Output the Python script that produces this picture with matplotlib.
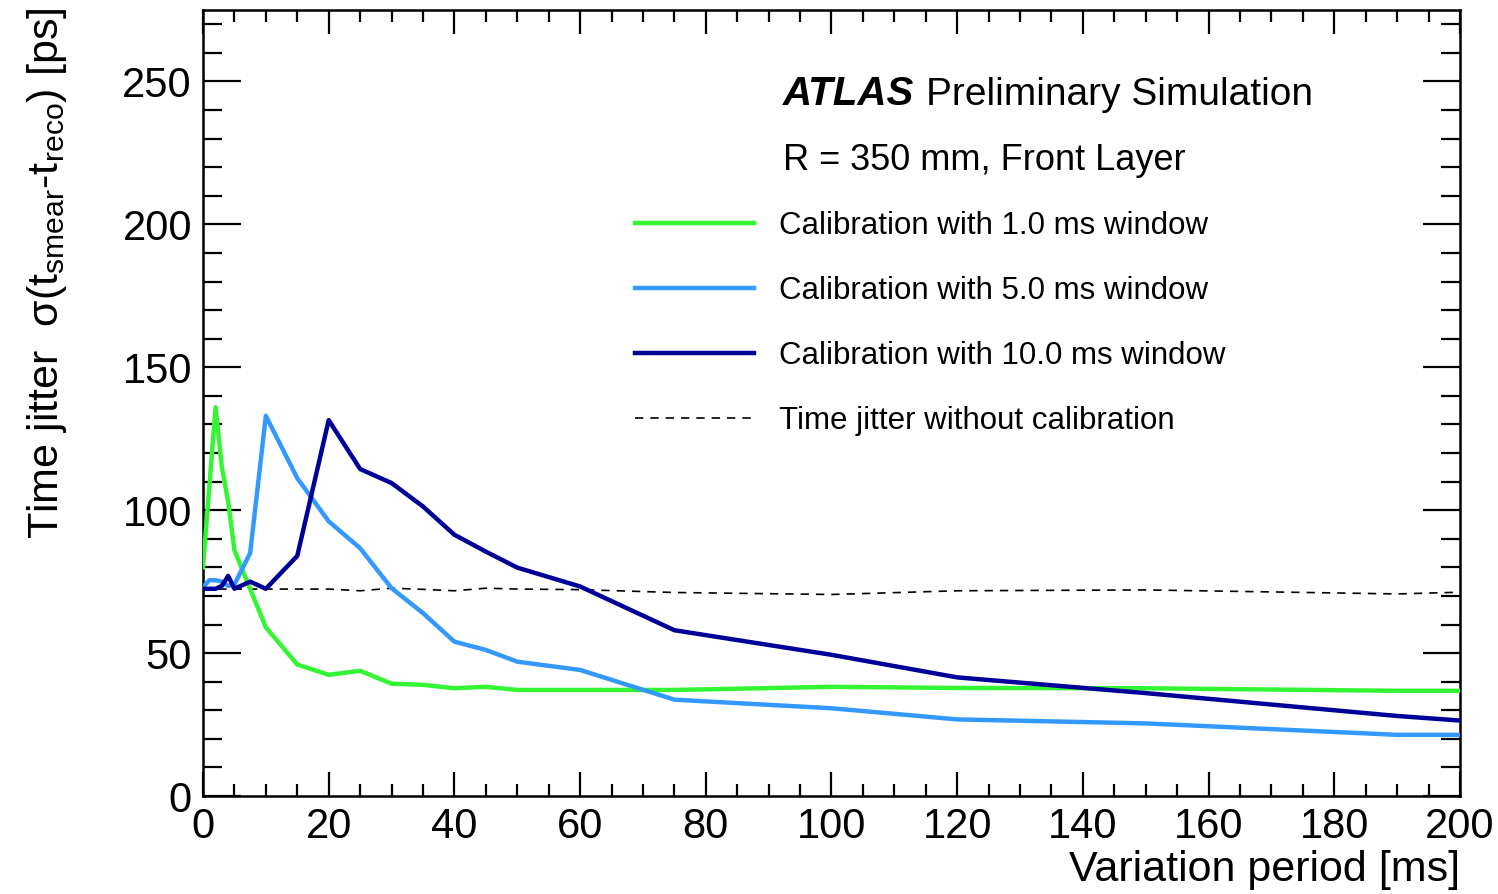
import matplotlib
matplotlib.use("Agg")
import matplotlib.pyplot as plt
from matplotlib.ticker import MultipleLocator

plt.rcParams['font.family'] = ['Liberation Sans', 'DejaVu Sans']
plt.rcParams['mathtext.fontset'] = 'custom'
plt.rcParams['mathtext.rm'] = 'Liberation Sans'
plt.rcParams['mathtext.it'] = 'Liberation Sans:italic'

# Variation period [ms]
x_1ms = [0, 2, 3, 4, 5, 10, 15, 20, 25, 30, 35, 40, 45, 50, 60, 75, 100, 120, 150, 190, 200]
y_1ms = [80, 136, 115, 103, 86, 59, 46, 42.4, 43.8, 39.3, 38.9, 37.7, 38.2, 37.1, 37.1, 37.1,
         38.2, 37.8, 37.7, 36.8, 36.8]

x_per = [0, 1, 2, 3, 4, 5, 7.5, 10, 15, 20, 25, 30, 35, 40, 45, 50, 60, 75, 100, 120, 150, 190, 200]
y_5ms = [73, 75.5, 75.5, 75, 73.5, 74, 85, 133, 111.2, 96.1, 86.7, 72.7, 64, 54, 51.1, 47, 44.1, 33.7,
         30.7, 26.8, 25.4, 21.4, 21.4]
y_10ms = [72.5, 72.5, 72.5, 73.5, 77, 72.5, 75, 72.5, 84, 131.5, 114.4, 109.5, 101.3, 91.4, 85.5, 79.9,
          73.3, 58, 49.4, 41.5, 36, 28, 26.4]
y_nocal = [72.4, 72.4, 72.4, 72.4, 72.4, 72.4, 72.4, 72.4, 72.4, 72.4, 71.8, 72.7, 72.3, 71.8, 72.7, 72.4,
           72.2, 71.2, 70.5, 71.8, 72.1, 70.7, 71.3]

labels = ['Calibration with 1.0 ms window', 'Calibration with 5.0 ms window',
          'Calibration with 10.0 ms window', 'Time jitter without calibration']

fig = plt.figure(figsize=(14.98, 8.94), dpi=100)
ax = fig.add_axes([203 / 1498, 1 - 796 / 894, (1460 - 203) / 1498, (796 - 10) / 894])

ax.plot(x_per, y_nocal, color='black', lw=1.2, dashes=(5, 4.2), label=labels[3], zorder=2)
ax.plot(x_1ms, y_1ms, color='#33f533', lw=3.2, label=labels[0], zorder=3)
ax.plot(x_per, y_5ms, color='#3399ff', lw=3.2, label=labels[1], zorder=3)
ax.plot(x_per, y_10ms, color='#000099', lw=3.2, label=labels[2], zorder=4)

ax.set_xlim(0, 200)
ax.set_ylim(0, 275)
ax.xaxis.set_major_locator(MultipleLocator(20))
ax.xaxis.set_minor_locator(MultipleLocator(5))
ax.yaxis.set_major_locator(MultipleLocator(50))
ax.yaxis.set_minor_locator(MultipleLocator(10))

for s in ax.spines.values():
    s.set_linewidth(1.8)
ax.tick_params(which='both', direction='in', top=True, right=True, width=1.6)
ax.tick_params(axis='y', which='major', length=27, labelsize=30, pad=8)
ax.tick_params(axis='y', which='minor', length=13.5)
ax.tick_params(axis='x', which='major', length=17, labelsize=30, pad=8)
ax.tick_params(axis='x', which='minor', length=8.5)

ax.set_xlabel('Variation period [ms]', fontsize=31, loc='right')
ax.xaxis.set_label_coords(1.0, -0.094)
ax.xaxis.label.set_va('center')
ax.set_ylabel(r'Time jitter  σ(t$_{\mathrm{smear}}$-t$_{\mathrm{reco}}$) [ps]', fontsize=31, loc='top')
ax.yaxis.set_label_coords(-0.124, 1.003)
ax.yaxis.label.set_va('center')

fig.text(783 / 1498, 1 - 105 / 894, 'ATLAS', fontsize=29, fontweight='bold', fontstyle='italic')
fig.text(926 / 1498, 1 - 105 / 894, 'Preliminary Simulation', fontsize=28)
fig.text(783 / 1498, 1 - 170 / 894, 'R = 350 mm, Front Layer', fontsize=26)

h, l = ax.get_legend_handles_labels()
order = [1, 2, 3, 0]
ax.legend([h[i] for i in order], [l[i] for i in order], loc='upper left',
          bbox_to_anchor=(635 / 1498, 1 - 211 / 894), bbox_transform=fig.transFigure,
          frameon=False, fontsize=22.5, handlelength=3.8, handletextpad=0.8,
          labelspacing=1.12, borderpad=0, borderaxespad=0)

fig.savefig('out.png', dpi=100)
